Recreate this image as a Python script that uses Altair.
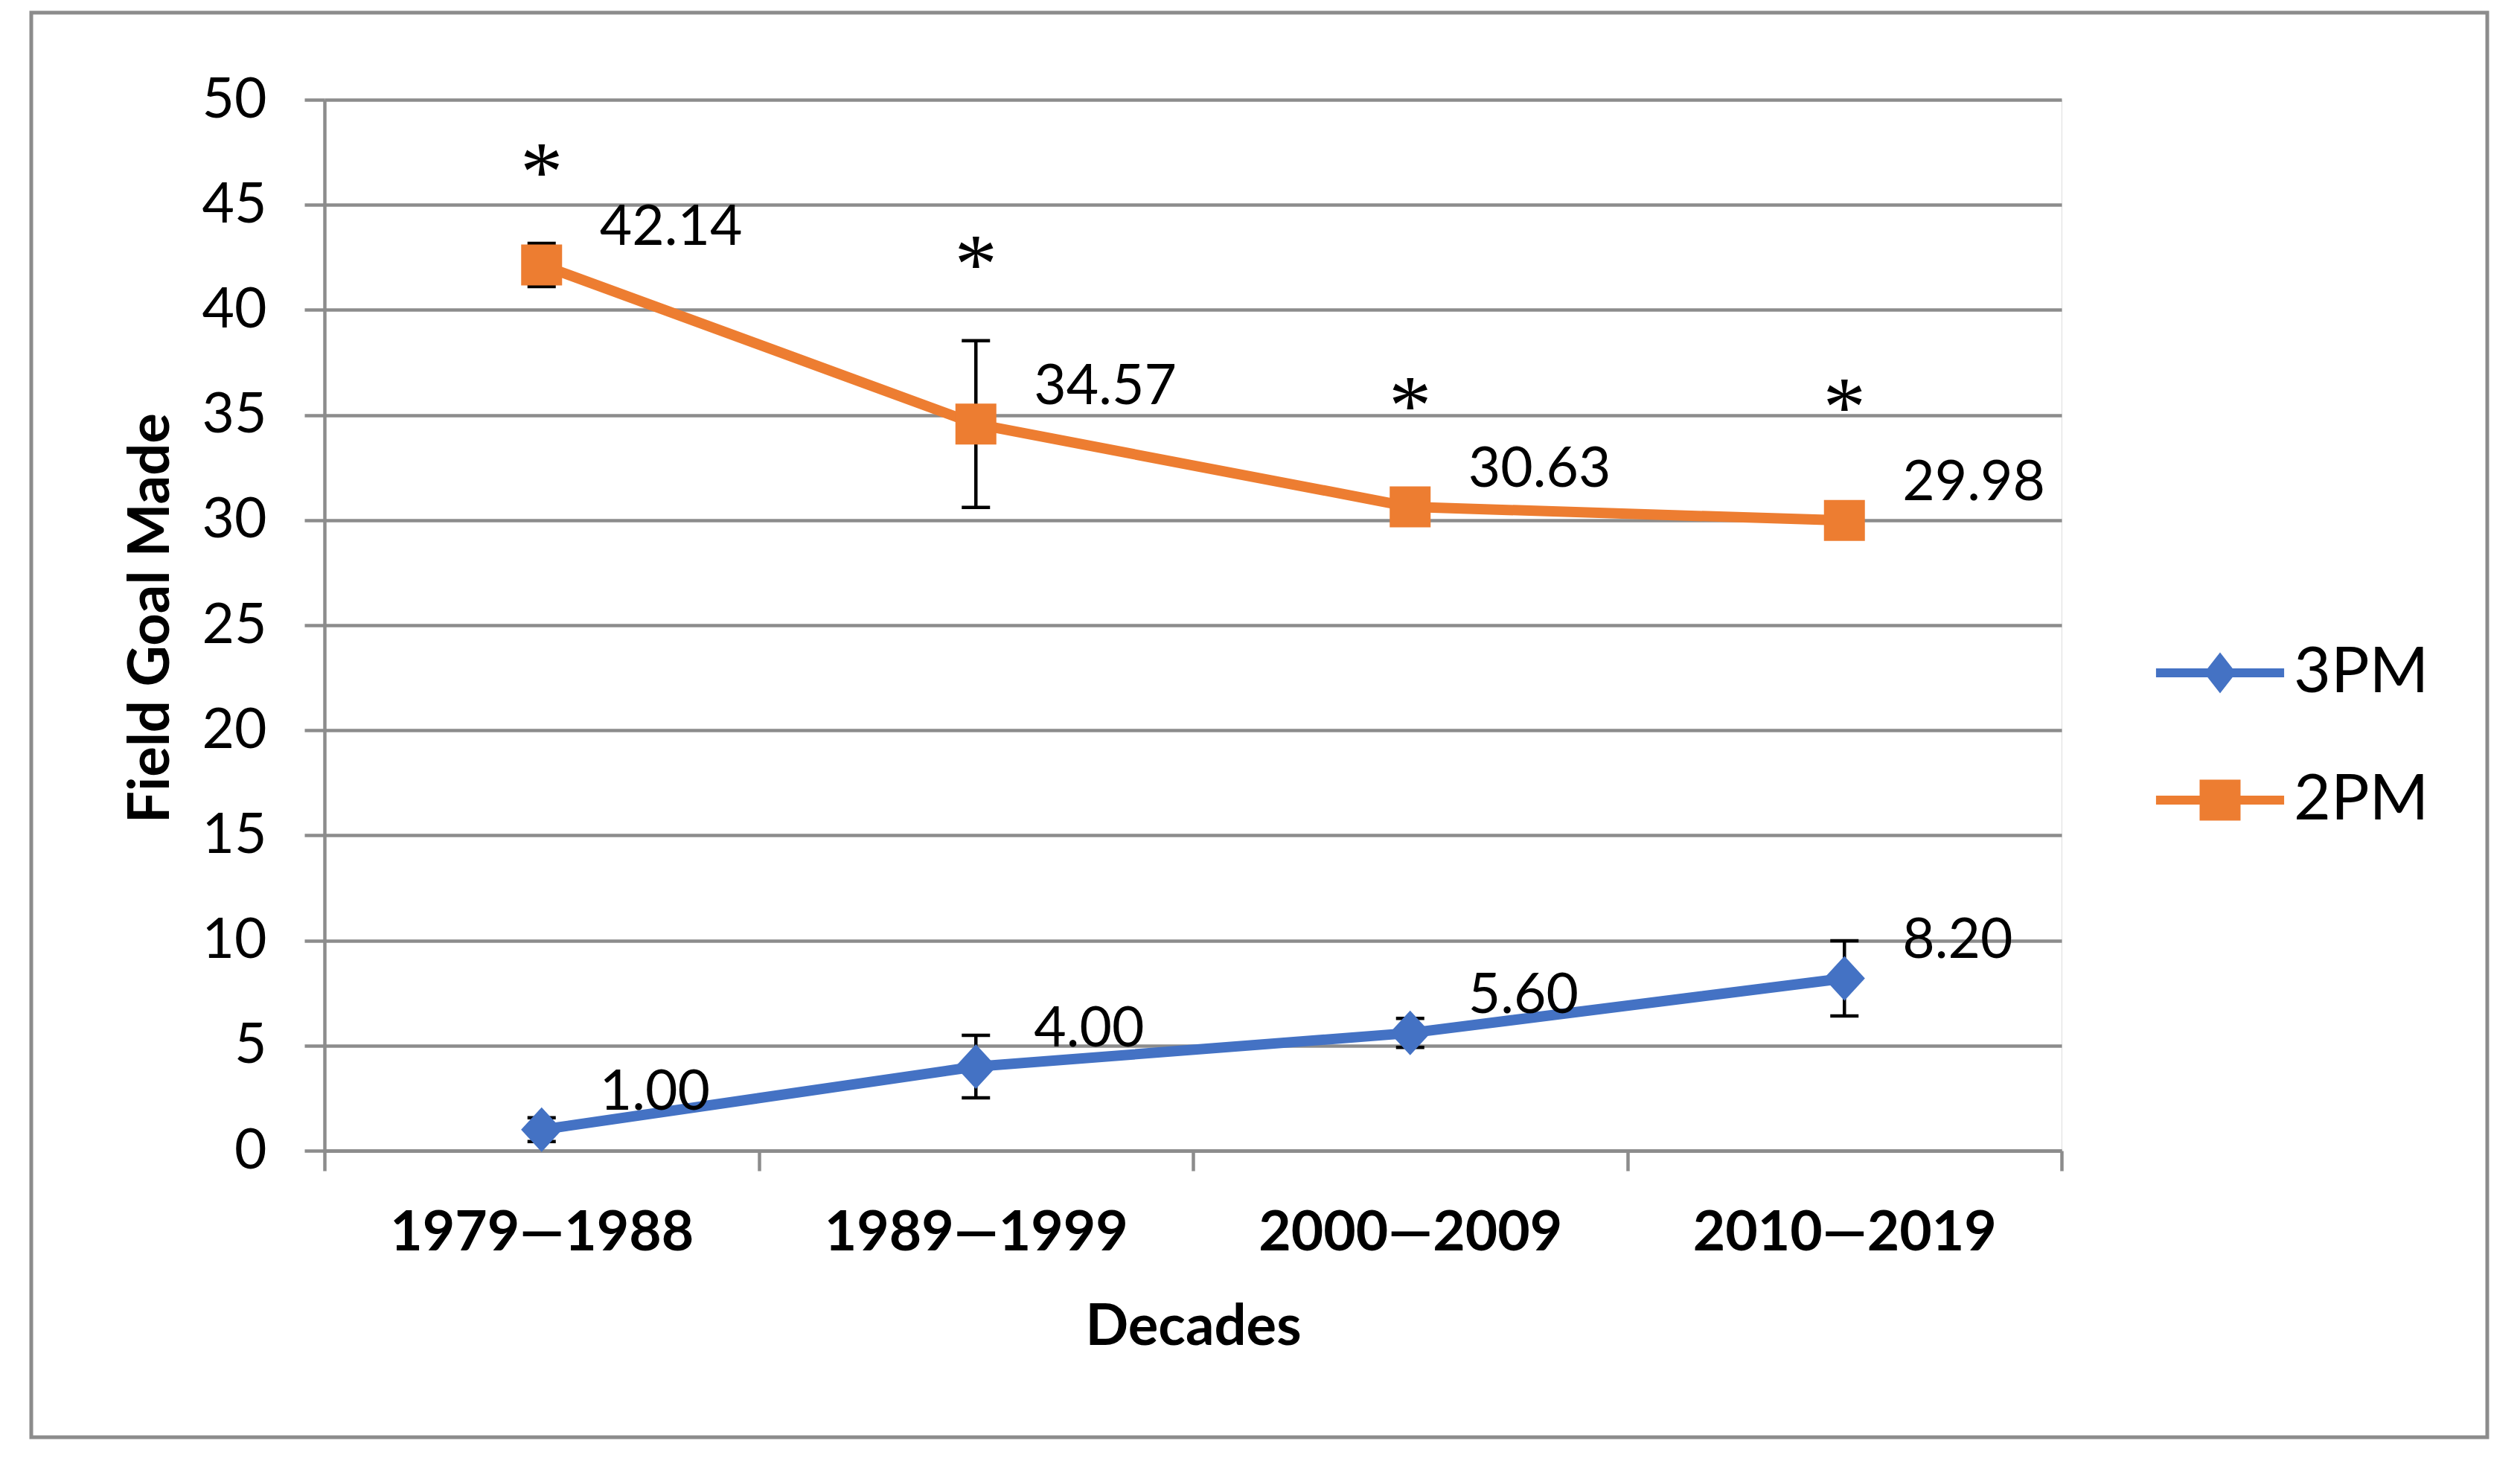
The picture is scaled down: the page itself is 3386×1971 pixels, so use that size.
import altair as alt
import pandas as pd

decades = ["1979—1988", "1989—1999", "2000—2009", "2010—2019"]
series = ["3PM", "2PM"]
pm3 = [1.00, 4.00, 5.60, 8.20]
pm3_err = [0.57, 1.49, 0.69, 1.79]
pm2 = [42.14, 34.57, 30.63, 29.98]
pm2_err = [1.03, 3.97, 0.40, 0.40]
star_y = [47.2, 42.8, 36.1, 36.0]
y_ticks = list(range(0, 51, 5))
colors = ["#4472C4", "#ED7D31"]

rows = []
for s, vals, errs in (("3PM", pm3, pm3_err), ("2PM", pm2, pm2_err)):
    for d, v, e in zip(decades, vals, errs):
        rows.append({"decade": d, "series": s, "value": v,
                     "lo": v - e, "hi": v + e, "label": f"{v:.2f}"})
df = pd.DataFrame(rows)
stars = pd.DataFrame({"decade": decades, "y": star_y, "t": ["*"] * 4})

GRID = "#8c8c8c"
FONT = "Lato"
W, H = 2334, 1412

xscale = alt.Scale(type="band", domain=decades, paddingInner=0, paddingOuter=0)
yscale = alt.Scale(domain=[0, 50], nice=False, zero=True)
cscale = alt.Scale(domain=series, range=colors)

x_axis = alt.Axis(
    title="Decades", titleFont=FONT, titleFontWeight="bold", titleFontSize=76,
    titleColor="black", titleY=237, titleBaseline="middle",
    labelFont=FONT, labelFontWeight="bold", labelFontSize=75, labelColor="black",
    labelPadding=83, labelBaseline="middle", labelAngle=0, labelLimit=800,
    tickBand="extent", tickSize=27, tickColor=GRID, tickWidth=4.5,
    domainColor=GRID, domainWidth=4.5, grid=False,
)
y_axis = alt.Axis(
    values=y_ticks, title="Field Goal Made", titleFont=FONT, titleFontWeight="bold",
    titleFontSize=76, titleColor="black", titleX=-233, titleY=696, titleAngle=-90,
    titleAlign="center", titleBaseline="middle", titleLimit=2000,
    labelFont=FONT, labelFontSize=75, labelColor="black", labelPadding=51,
    tickSize=27, tickColor=GRID, tickWidth=4.5,
    domainColor=GRID, domainWidth=4.5, grid=True, gridColor=GRID, gridWidth=4.5,
)

X = alt.X("decade:N", scale=xscale, axis=x_axis, sort=decades)

base = alt.Chart(df)

border = alt.Chart(pd.DataFrame({"a": [0]})).mark_rect(
    fillOpacity=0, stroke=GRID, strokeWidth=5
).encode(
    x=alt.value(-394), x2=alt.value(2906), y=alt.value(-117), y2=alt.value(1797)
)

err_rule = base.mark_rule(color="black", strokeWidth=4.5).encode(
    x=X, y=alt.Y("lo:Q", scale=yscale, axis=y_axis), y2="hi:Q"
)
err_lo = base.mark_tick(color="black", thickness=4.5, size=38, opacity=1).encode(
    x=X, y=alt.Y("lo:Q", scale=yscale)
)
err_hi = base.mark_tick(color="black", thickness=4.5, size=38, opacity=1).encode(
    x=X, y=alt.Y("hi:Q", scale=yscale)
)

line3 = base.transform_filter(alt.datum.series == "3PM").mark_line(
    strokeWidth=14, strokeJoin="round", strokeCap="round", color=colors[0]
).encode(x=X, y=alt.Y("value:Q", scale=yscale))
line2 = base.transform_filter(alt.datum.series == "2PM").mark_line(
    strokeWidth=14, strokeJoin="round", strokeCap="round", color=colors[1]
).encode(x=X, y=alt.Y("value:Q", scale=yscale))

diamond_path = "M0,-1L0.92,0L0,1L-0.92,0Z"
diam = base.transform_filter(alt.datum.series == "3PM").mark_point(
    filled=True, opacity=1, shape=diamond_path, size=3600, color=colors[0], strokeWidth=0
).encode(x=X, y=alt.Y("value:Q", scale=yscale))
sq = base.transform_filter(alt.datum.series == "2PM").mark_point(
    filled=True, opacity=1, shape="square", size=3025, color=colors[1], strokeWidth=0
).encode(x=X, y=alt.Y("value:Q", scale=yscale))

labels = base.mark_text(
    align="left", baseline="middle", dx=78, dy=-50, font=FONT, fontSize=75, color="black"
).encode(x=X, y=alt.Y("value:Q", scale=yscale), text="label:N")

star_marks = alt.Chart(stars).mark_text(
    font="Liberation Serif", fontSize=115, baseline="middle", dy=21, color="black"
).encode(x=X, y=alt.Y("y:Q", scale=yscale), text="t:N")

leg_d = ("M-3.13,-0.22L-0.61,-0.22L0,-1L0.61,-0.22L3.13,-0.22L3.13,0.22"
         "L0.61,0.22L0,1L-0.61,0.22L-3.13,0.22Z")
leg_s = ("M-3.13,-0.22L-1,-0.22L-1,-1L1,-1L1,-0.22L3.13,-0.22L3.13,0.22"
         "L1,0.22L1,1L-1,1L-1,0.22L-3.13,0.22Z")
legend = alt.Legend(
    title=None, orient="none", legendX=2504, legendY=727, padding=0,
    labelFont=FONT, labelFontSize=86, labelColor="black", labelOffset=56,
    labelLimit=600, rowPadding=85, symbolSize=3025, symbolStrokeWidth=0,
    symbolOpacity=1, labelBaseline="middle",
)
leg_layer = base.mark_point(
    filled=True, opacity=0, strokeWidth=0
).encode(
    x=X, y=alt.Y("value:Q", scale=yscale),
    shape=alt.Shape("series:N", scale=alt.Scale(domain=series, range=[leg_d, leg_s]),
                    legend=legend),
    color=alt.Color("series:N", scale=cscale, legend=legend),
)

chart = alt.layer(
    border, err_rule, err_lo, err_hi, line3, line2, diam, sq, labels, star_marks, leg_layer
).properties(
    width=W, height=H,
    autosize=alt.AutoSizeParams(type="none"),
    padding={"left": 428, "top": 126, "right": 600, "bottom": 400},
).configure_view(stroke=None).configure(background="white")

chart.save("out.html", embed_options={"renderer": "svg", "actions": False})
